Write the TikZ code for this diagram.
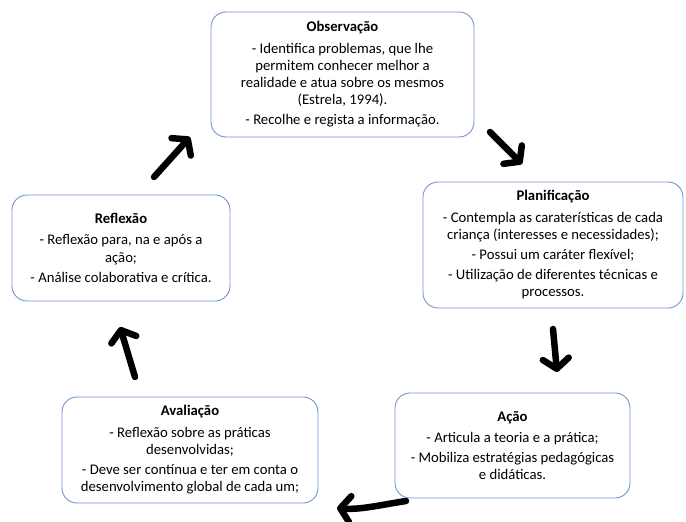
\documentclass[tikz,border=0pt]{standalone}
\usepackage{fontspec}
\setmainfont{Carlito}
\usepackage{xcolor}
\usetikzlibrary{arrows.meta}

\definecolor{boxline}{RGB}{114,147,207}

\begin{document}
\begin{tikzpicture}[x=1pt, y=-1pt,
    phase/.style={draw=boxline, line width=0.9pt, rounded corners=15pt,
        align=center, inner sep=0pt, font=\fontsize{14.7}{17.2}\selectfont},
    cycle/.style={line width=6.5pt, line cap=round,
        -{Straight Barb[length=10pt, width=26pt, line width=6.5pt, round]}}]
\useasboundingbox (0,0) rectangle (686,522);
\tikzstyle{every node}+=[fill=white]

\node[phase, minimum width=263pt, minimum height=125pt] (obs) at (342.5,74.5)
    {\textbf{Observação}\\[4pt]
     - Identifica problemas, que lhe\\
     permitem conhecer melhor a\\
     realidade e atua sobre os mesmos\\
     (Estrela, 1994).\\[3pt]
     - Recolhe e regista a informação.};
\node[phase, minimum width=260pt, minimum height=126pt] (plan) at (553,245)
    {\textbf{Planificação}\\[4pt]
     - Contempla as caraterísticas de cada\\
     criança (interesses e necessidades);\\[3pt]
     - Possui um caráter flexível;\\[3pt]
     - Utilização de diferentes técnicas e\\
     processos.};
\node[phase, minimum width=235pt, minimum height=105pt] (acao) at (512.5,445.5)
    {\textbf{Ação}\\[4pt]
     - Articula a teoria e a prática;\\[3pt]
     - Mobiliza estratégias pedagógicas\\
     e didáticas.};
\node[phase, minimum width=256pt, minimum height=106pt] (aval) at (190,450)
    {\textbf{Avaliação}\\[4pt]
     - Reflexão sobre as práticas\\
     desenvolvidas;\\[3pt]
     - Deve ser contínua e ter em conta o\\
     desenvolvimento global de cada um;};
\node[phase, minimum width=218pt, minimum height=106pt] (refl) at (121,248)
    {\textbf{Reflexão}\\[4pt]
     - Reflexão para, na e após a\\
     ação;\\[3pt]
     - Análise colaborativa e crítica.};

% arrow ends between the phases
\coordinate (op) at (490,132);
\coordinate (pl) at (522,164);
\coordinate (pa) at (553,329);
\coordinate (ap) at (557,372);
\coordinate (av) at (406,501);
\coordinate (va) at (337,508);
\coordinate (vr) at (135,377);
\coordinate (rv) at (120,327);
\coordinate (ro) at (154,177);
\coordinate (or) at (190,137);

\draw[cycle] (op) -- (pl);
\draw[cycle] (pa) -- (ap);
\draw[cycle] (av) .. controls (380,505) and (360,510) .. (va);
\draw[cycle] (vr) -- (rv);
\draw[cycle] (ro) -- (or);
\end{tikzpicture}
\end{document}
